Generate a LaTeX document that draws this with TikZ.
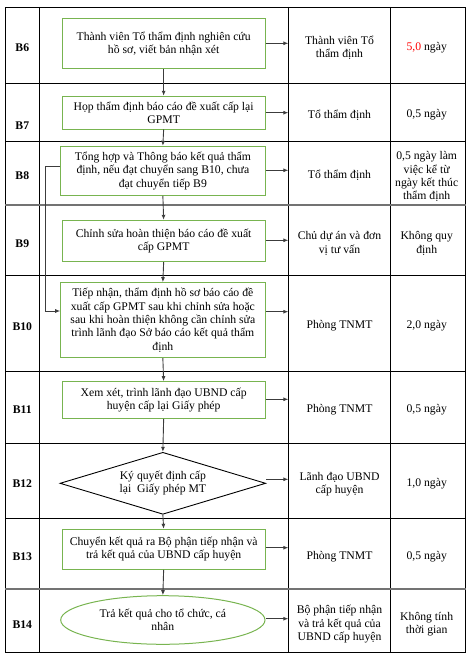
\documentclass[tikz,border=0pt]{standalone}
\usepackage{fontspec}
\setmainfont{Liberation Serif}
\usetikzlibrary{shapes.geometric,arrows.meta,calc}
\definecolor{boxgreen}{RGB}{120,180,80}
\definecolor{arrgray}{RGB}{60,60,60}
\begin{document}
\begin{tikzpicture}[x=1pt,y=-1pt,
  font=\fontsize{11.7}{13.4}\selectfont,
  stepbox/.style={draw=boxgreen,line width=1pt,align=center,inner sep=0pt,rectangle},
  lbl/.style={font=\fontsize{11.7}{13.4}\selectfont\bfseries},
  cell/.style={align=center,inner sep=0pt},
  arr/.style={draw=arrgray,line width=0.9pt,-{Latex[length=5pt,width=4pt]}},
  grid/.style={line width=0.9pt,black},
  thickgrid/.style={line width=1.6pt,black!55}]
\useasboundingbox (0,0) rectangle (471,661);
% table
\draw[grid] (5,7) rectangle (465.7,652);
\foreach \x in {39.7,288.3,390.7} \draw[grid] (\x,7) -- (\x,652);
\foreach \y in {83.3,141.3,275,371.3,443.3,518.7} \draw[grid] (5,\y) -- (465.7,\y);
\foreach \y in {204.7,589} \draw[thickgrid] (5,\y) -- (465.7,\y);
% row labels
\node[lbl] (l6) at (22.3,48) {B6};
\node[lbl] (l7) at (22.3,126) {B7};
\node[lbl] (l8) at (22.3,175.7) {B8};
\node[lbl] (l9) at (22.3,243.3) {B9};
\node[lbl] (l10) at (22.3,326.7) {B10};
\node[lbl] (l11) at (22.3,410) {B11};
\node[lbl] (l12) at (22.3,483.3) {B12};
\node[lbl] (l13) at (22.3,556.7) {B13};
\node[lbl] (l14) at (22.3,624.3) {B14};
% steps
\node[stepbox,minimum width=202.7pt,minimum height=49.3pt] (b6) at (163.65,43.65) {Thành viên Tổ thẩm định nghiên cứu\\hồ sơ, viết bản nhận xét};
\node[stepbox,minimum width=202.7pt,minimum height=32.7pt] (b7) at (163.65,112.65) {Họp thẩm định báo cáo đề xuất cấp lại\\GPMT};
\node[stepbox,minimum width=204.3pt,minimum height=49pt] (b8) at (162.85,170.8) {Tổng hợp và Thông báo kết quả thẩm\\định, nếu đạt chuyển sang B10, chưa\\đạt chuyển tiếp B9};
\node[stepbox,minimum width=202.7pt,minimum height=41.4pt] (b9) at (163.65,241) {Chỉnh sửa hoàn thiện báo cáo đề xuất\\cấp GPMT};
\node[stepbox,minimum width=204.3pt,minimum height=75pt] (b10) at (162.85,320.2) {Tiếp nhận, thẩm định hồ sơ báo cáo đề\\xuất cấp GPMT sau khi chỉnh sửa hoặc\\sau khi hoàn thiện không cần chỉnh sửa\\trình lãnh đạo Sở báo cáo kết quả thẩm\\định};
\node[stepbox,minimum width=202.7pt,minimum height=36.6pt] (b11) at (163.65,400) {Xem xét, trình lãnh đạo UBND cấp\\huyện cấp lại Giấy phép};
\node[diamond,shape aspect=3.32,draw=black,line width=0.9pt,align=center,inner sep=0pt,minimum width=205.7pt,minimum height=62pt] (b12) at (162.85,483.3) {Ký quyết định cấp\\lại\ \ Giấy phép MT};
\node[stepbox,minimum width=202.7pt,minimum height=40pt] (b13) at (163.65,549.3) {Chuyển kết quả ra Bộ phận tiếp nhận và\\trả kết quả của UBND cấp huyện};
\node[ellipse,draw=boxgreen,line width=1pt,align=center,inner sep=0pt,minimum width=204.3pt,minimum height=48.6pt] (b14) at (162.85,620) {Trả kết quả cho tổ chức, cá\\nhân};
% column 3
\node[cell] (r6) at (339.5,48) {Thành viên Tổ\\thẩm định};
\node[cell] (r7) at (339.5,115) {Tổ thẩm định};
\node[cell] (r8) at (339.5,175.7) {Tổ thẩm định};
\node[cell] (r9) at (339.5,243.3) {Chủ dự án và đơn\\vị tư vấn};
\node[cell] (r10) at (339.5,326) {Phòng TNMT};
\node[cell] (r11) at (339.5,410) {Phòng TNMT};
\node[cell] (r12) at (339.5,484) {Lãnh đạo UBND\\cấp huyện};
\node[cell] (r13) at (339.5,556.7) {Phòng TNMT};
\node[cell] (r14) at (339.5,624.3) {Bộ phận tiếp nhận\\và trả kết quả của\\UBND cấp huyện};
% column 4
\node[cell] (t6) at (426.7,48) {\textcolor{red}{5,0} ngày};
\node[cell] (t7) at (426.7,115) {0,5 ngày};
\node[cell] (t8) at (426.7,176.7) {0,5 ngày làm\\việc kể từ\\ngày kết thúc\\thẩm định};
\node[cell] (t9) at (426.7,243.3) {Không quy\\định};
\node[cell] (t10) at (426.7,326) {2,0 ngày};
\node[cell] (t11) at (426.7,410) {0,5 ngày};
\node[cell] (t12) at (426.7,484) {1,0 ngày};
\node[cell] (t13) at (426.7,556.7) {0,5 ngày};
\node[cell] (t14) at (426.7,624.3) {Không tính\\thời gian};
% vertical arrows
\draw[arr] (b6.south) -- (b7.north);
\draw[arr] (b7.south) -- (b8.north);
\draw[arr] (b8.south) -- (b9.north);
\draw[arr] (b9.south) -- (b10.north);
\draw[arr] (b10.south) -- (b11.north);
\draw[arr] (b11.south) -- (b12.north);
\draw[arr] (b12.south) -- (b13.north);
\draw[arr] (b13.south) -- (b14.north);
% horizontal arrows to column line
\coordinate (h6) at (288.3,43.3);
\coordinate (h7) at (288.3,112.7);
\coordinate (h8) at (288.3,170.3);
\coordinate (h9) at (288.3,240.3);
\coordinate (h10) at (288.3,311.7);
\coordinate (h11) at (288.3,399.3);
\coordinate (h12) at (288.3,479.3);
\coordinate (h13) at (288.3,547.7);
\coordinate (h14) at (288.3,618.7);
\foreach \i in {6,7,8,9,10,11,13} \draw[arr] (b\i.east |- h\i) -- (h\i);
\draw[arr] (b12.east |- h12) -- (h12);
\draw[arr] (b14.east |- h14) -- (h14);
% bypass B8 -> B10
\coordinate (k1) at (45.7,166.3);
\coordinate (k2) at (45.7,311);
\draw[arr] (b8.west |- k1) -- (k1) -- (k2) -- (b10.west |- k2);
\end{tikzpicture}
\end{document}
